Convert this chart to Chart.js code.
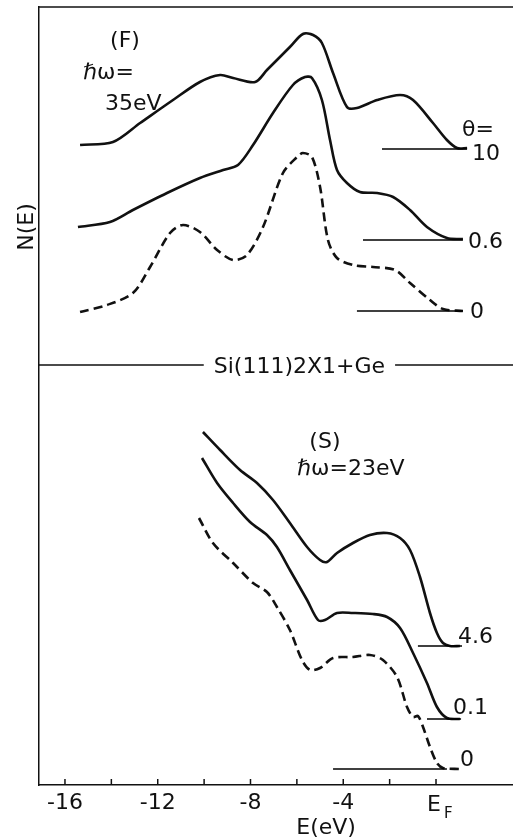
<!DOCTYPE html>
<html>
<head>
<meta charset="utf-8">
<script src="https://cdn.jsdelivr.net/npm/chart.js@4.4.1/dist/chart.umd.min.js"></script>
<style>
  html, body { margin: 0; padding: 0; background: #fff; }
  #wrap { width: 513px; height: 839px; }
</style>
</head>
<body>
<div id="wrap"><canvas id="spectra"></canvas></div>
<script>
// Si(111)2x1 + Ge photoemission spectra
// E in eV (E_F = 0), N(E) in arbitrary units

// (F) hw = 35 eV, theta = 10
const fTheta10E = [-15.35, -13.93, -12.76, -11.34, -10.18, -9.31, -8.75, -7.80, -7.29, -6.30, -5.74, -5.30, -4.92, -4.44, -3.84, -3.41, -2.54, -1.55, -0.99, -0.13, 0.47, 0.91, 1.34];
const fTheta10N = [64.0, 64.3, 66.2, 68.5, 70.3, 71.0, 70.7, 70.3, 71.5, 73.8, 75.1, 75.0, 74.2, 71.2, 67.8, 67.7, 68.5, 69.0, 68.5, 66.2, 64.5, 63.7, 63.7];

// (F) theta = 0.6
const fTheta06E = [-15.44, -14.06, -13.07, -11.60, -10.18, -9.18, -8.54, -7.89, -7.03, -6.17, -5.65, -5.35, -4.92, -4.57, -4.27, -3.84, -3.28, -2.54, -1.85, -1.12, -0.39, 0.47, 1.16];
const fTheta06N = [55.8, 56.3, 57.5, 59.2, 60.7, 61.5, 62.0, 64.0, 67.2, 70.0, 70.8, 70.7, 68.5, 64.5, 61.5, 60.2, 59.3, 59.2, 58.8, 57.5, 55.8, 54.7, 54.6];

// (F) theta = 0 (clean surface, dashed)
const fTheta0E = [-15.35, -14.19, -13.07, -12.33, -11.47, -10.91, -10.18, -9.44, -8.75, -8.15, -7.46, -6.60, -5.99, -5.74, -5.35, -5.00, -4.66, -4.27, -3.58, -2.72, -1.77, -1.12, -0.26, 0.30, 1.16];
const fTheta0N = [47.3, 48.0, 49.2, 51.8, 55.2, 56.0, 55.3, 53.5, 52.5, 53.0, 55.8, 61.2, 62.8, 63.2, 62.8, 59.8, 54.5, 52.7, 52.0, 51.8, 51.5, 50.2, 48.5, 47.6, 47.4];

// (S) hw = 23 eV, theta = 4.6
const sTheta46E = [-10.05, -9.31, -8.45, -7.72, -7.03, -6.30, -5.56, -5.00, -4.70, -4.27, -3.58, -2.85, -2.11, -1.55, -1.12, -0.69, -0.26, 0.04, 0.30, 0.60, 1.03];
const sTheta46N = [35.3, 33.5, 31.5, 30.2, 28.5, 26.2, 23.8, 22.5, 22.3, 23.2, 24.2, 25.0, 25.2, 24.7, 23.5, 20.8, 17.2, 15.2, 14.2, 13.9, 13.9];

// (S) theta = 0.1
const sTheta01E = [-10.09, -9.44, -8.75, -8.02, -7.29, -6.86, -6.30, -5.56, -5.09, -4.79, -4.27, -3.58, -2.72, -2.11, -1.55, -0.99, -0.39, 0.04, 0.47, 1.03];
const sTheta01N = [32.7, 30.2, 28.2, 26.3, 25.0, 23.8, 21.5, 18.5, 16.5, 16.5, 17.2, 17.2, 17.1, 16.8, 15.7, 13.2, 10.2, 7.8, 6.7, 6.6];

// (S) theta = 0 (dashed)
const sTheta0E = [-10.22, -9.62, -8.75, -7.89, -7.29, -6.86, -6.30, -5.78, -5.43, -5.00, -4.44, -3.58, -2.85, -2.29, -1.68, -1.25, -0.99, -0.78, -0.56, -0.26, 0.04, 0.30, 1.03];
const sTheta0N = [26.7, 24.2, 22.2, 20.2, 19.3, 17.8, 15.5, 12.5, 11.5, 11.7, 12.7, 12.8, 13.0, 12.5, 10.8, 7.8, 6.8, 6.9, 5.8, 3.8, 2.2, 1.7, 1.6];

// zero levels of each spectrum
const baseF10E = [-2.33, 1.34], baseF10N = [63.6, 63.6];
const baseF06E = [-3.15, 1.16], baseF06N = [54.5, 54.5];
const baseF0E = [-3.41, 1.16], baseF0N = [47.4, 47.4];
const baseS46E = [-0.78, 1.12], baseS46N = [13.9, 13.9];
const baseS01E = [-0.39, 1.08], baseS01N = [6.6, 6.6];
const baseS0E = [-4.44, 0.47], baseS0N = [1.6, 1.6];

// x axis
const xTicks = [-16, -14, -12, -10, -8, -6, -4, -2, 0];
const xTickLabels = ['-16', '', '-12', '', '-8', '', '-4', '', ''];

const FONT = '"DejaVu Sans", "Liberation Sans", sans-serif';
const INK = '#111';

function pts(es, ns) {
  return es.map((e, i) => ({ x: e, y: ns[i] }));
}

function curve(es, ns, dashed) {
  return {
    data: pts(es, ns),
    borderColor: INK,
    borderWidth: 2.6,
    borderDash: dashed ? [9, 5] : [],
    pointRadius: 0,
    tension: 0.3,
    fill: false
  };
}

function baseline(es, ns) {
  return {
    data: pts(es, ns),
    borderColor: '#000',
    borderWidth: 1.5,
    pointRadius: 0,
    tension: 0,
    fill: false
  };
}

// text written on the figure, placed in data coordinates
const notes = [
  { text: '(F)', x: -13.41, y: 74.6, align: 'center' },
  { text: '\u210Fω=', x: -15.22, y: 71.4, align: 'left' },
  { text: '35eV', x: -14.27, y: 68.3, align: 'left' },
  { text: 'θ=', x: 1.81, y: 65.7, align: 'center' },
  { text: '10', x: 1.55, y: 63.3, align: 'left' },
  { text: '0.6', x: 1.38, y: 54.5, align: 'left' },
  { text: '0', x: 1.47, y: 47.5, align: 'left' },
  { text: '(S)', x: -4.79, y: 34.5, align: 'center' },
  { text: '\u210Fω=23eV', x: -5.99, y: 31.8, align: 'left' },
  { text: '4.6', x: 0.95, y: 15.0, align: 'left' },
  { text: '0.1', x: 0.73, y: 7.9, align: 'left' },
  { text: '0', x: 1.03, y: 2.7, align: 'left' },
  { text: 'E(eV)', x: -4.74, y: -4.1, align: 'center' }
];

const annotate = {
  id: 'annotate',
  afterDraw(chart) {
    const { ctx, chartArea } = chart;
    const xs = chart.scales.x, ys = chart.scales.y;
    ctx.save();
    ctx.strokeStyle = INK;
    ctx.fillStyle = INK;

    // top frame
    ctx.lineWidth = 1.5;
    ctx.beginPath();
    ctx.moveTo(chartArea.left, chartArea.top);
    ctx.lineTo(chartArea.right, chartArea.top);
    ctx.stroke();

    // ticks pointing into the plot
    xTicks.forEach(v => {
      const px = xs.getPixelForValue(v);
      ctx.beginPath();
      ctx.moveTo(px, chartArea.bottom);
      ctx.lineTo(px, chartArea.bottom - 6);
      ctx.stroke();
    });

    ctx.font = '22px ' + FONT;
    ctx.textBaseline = 'alphabetic';

    // divider between the two panels
    const title = 'Si(111)2X1+Ge';
    const tx = xs.getPixelForValue(-5.89);
    const ty = ys.getPixelForValue(42.0);
    const tw = ctx.measureText(title).width;
    ctx.lineWidth = 1.5;
    ctx.beginPath();
    ctx.moveTo(chartArea.left, ty);
    ctx.lineTo(tx - tw / 2 - 10, ty);
    ctx.moveTo(tx + tw / 2 + 10, ty);
    ctx.lineTo(chartArea.right, ty);
    ctx.stroke();
    ctx.textAlign = 'center';
    ctx.fillText(title, tx, ty + 8);

    notes.forEach(n => {
      ctx.textAlign = n.align;
      ctx.fillText(n.text, xs.getPixelForValue(n.x), ys.getPixelForValue(n.y) + 8);
    });

    // E_F under the zero tick
    const x0 = xs.getPixelForValue(0);
    ctx.textAlign = 'center';
    ctx.fillText('E', x0 - 2, chartArea.bottom + 26);
    ctx.font = '15px ' + FONT;
    ctx.textAlign = 'left';
    ctx.fillText('F', x0 + 8, chartArea.bottom + 33);

    // y axis name
    ctx.font = '22px ' + FONT;
    ctx.translate(xs.getPixelForValue(-17.72), ys.getPixelForValue(55.8));
    ctx.rotate(-Math.PI / 2);
    ctx.textAlign = 'center';
    ctx.fillText('N(E)', 0, 8);
    ctx.restore();
  }
};

const ctx = document.getElementById('spectra').getContext('2d');
const spectraChart = new Chart(ctx, {
  type: 'line',
  data: {
    datasets: [
      baseline(baseF10E, baseF10N),
      baseline(baseF06E, baseF06N),
      baseline(baseF0E, baseF0N),
      baseline(baseS46E, baseS46N),
      baseline(baseS01E, baseS01N),
      baseline(baseS0E, baseS0N),
      curve(fTheta10E, fTheta10N, false),
      curve(fTheta06E, fTheta06N, false),
      curve(fTheta0E, fTheta0N, true),
      curve(sTheta46E, sTheta46N, false),
      curve(sTheta01E, sTheta01N, false),
      curve(sTheta0E, sTheta0N, true)
    ]
  },
  options: {
    responsive: true,
    maintainAspectRatio: false,
    animation: false,
    layout: { padding: { top: 7, left: 0, right: 0, bottom: 0 } },
    plugins: {
      legend: { display: false },
      tooltip: { enabled: false }
    },
    scales: {
      x: {
        type: 'linear',
        min: -17.12,
        max: 3.32,
        afterBuildTicks: scale => { scale.ticks = xTicks.map(v => ({ value: v })); },
        afterFit: scale => { scale.height = 54; },
        grid: { drawOnChartArea: false, drawTicks: false },
        border: { color: INK, width: 1.5 },
        ticks: {
          autoSkip: false,
          maxRotation: 0,
          padding: 5,
          color: INK,
          font: { family: FONT, size: 22 },
          callback: v => xTickLabels[xTicks.indexOf(v)]
        }
      },
      y: {
        type: 'linear',
        min: 0,
        max: 77.8,
        afterFit: scale => { scale.width = 39; },
        grid: { drawOnChartArea: false, drawTicks: false },
        border: { color: INK, width: 1.5 },
        ticks: { display: false }
      }
    }
  },
  plugins: [annotate]
});
</script>
</body>
</html>
